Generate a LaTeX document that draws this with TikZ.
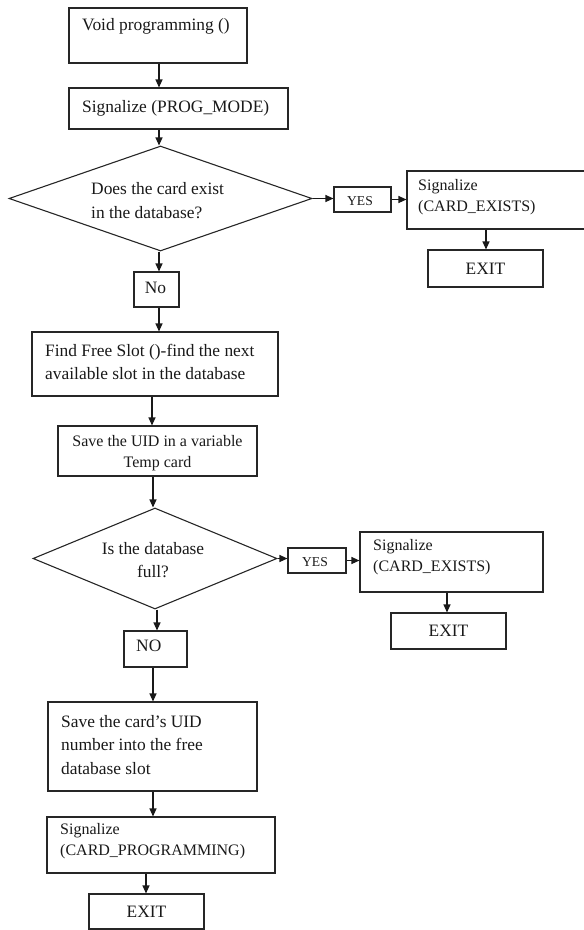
\documentclass[tikz,border=0pt]{standalone}
\usepackage{fontspec}
\setmainfont{Liberation Serif}
\usetikzlibrary{arrows.meta,shapes.geometric}

\begin{document}
\begin{tikzpicture}[x=1pt,y=-1pt]
\tikzset{
  flowbox/.style={draw=black!85, line width=1.1pt, rectangle, inner sep=0pt,
    font=\fontsize{17.4}{23.5}\selectfont, text=black!90},
  decision/.style={draw=black!85, line width=1.1pt, diamond, inner sep=0pt},
  bigtxt/.style={inner sep=0pt, font=\fontsize{17.4}{23.5}\selectfont, text=black!90, align=left},
  smalltxt/.style={inner sep=0pt, font=\fontsize{16}{21}\selectfont, text=black!90, align=left},
  yestxt/.style={inner sep=0pt, font=\fontsize{13.6}{16}\selectfont, text=black!90},
  flow/.style={draw=black!90, line width=1.1pt, -{Triangle[length=8pt,width=7pt]}},
}
\useasboundingbox (0,0) rectangle (584,930);

% column positions of the vertical connectors
\coordinate (c146) at (146,0);
\coordinate (c152) at (152,0);
\coordinate (c153) at (153,0);
\coordinate (c157) at (157,0);
\coordinate (c159) at (159,0);
\coordinate (c447) at (447,0);
\coordinate (c486) at (486,0);

% main column
\node[flowbox, minimum width=178pt, minimum height=55pt] (b1) at (158,35.5) {};
\node[bigtxt, anchor=west] (t1) at (82,26.5) {Void programming ()};

\node[flowbox, minimum width=219pt, minimum height=41pt] (b2) at (178.5,108.5) {};
\node[bigtxt, anchor=west] (t2) at (82,108.5) {Signalize (PROG\_MODE)};

\node[decision, minimum width=303pt, minimum height=105pt] (d1) at (160.5,198.5) {};
\node[bigtxt, anchor=west] (td1) at (91,200.5) {Does the card exist\\in the database?};

\node[flowbox, minimum width=45pt, minimum height=35pt] (n1) at (156.5,289.5) {};
\node[bigtxt] (tn1) at (155.5,288) {No};

\node[flowbox, minimum width=246pt, minimum height=64pt] (f) at (155,364) {};
\node[bigtxt, anchor=west] (tf) at (45,362) {Find Free Slot ()-find the next\\available slot in the database};

\node[flowbox, minimum width=199pt, minimum height=50pt] (u) at (157.5,451) {};
\node[smalltxt, align=center] (tu) at (157.5,453) {Save the UID in a variable\\Temp card};

\node[decision, minimum width=244pt, minimum height=101pt] (d2) at (155,558.5) {};
\node[bigtxt, align=center] (td2) at (153,560) {Is the database\\full?};

\node[flowbox, minimum width=63pt, minimum height=36pt] (n2) at (155.5,649) {};
\node[bigtxt, anchor=west] (tn2) at (136,646) {NO};

\node[flowbox, minimum width=209pt, minimum height=89pt] (c) at (152.5,746.5) {};
\node[bigtxt, anchor=west] (tc) at (61,745) {Save the card’s UID\\number into the free\\database slot};

\node[flowbox, minimum width=228pt, minimum height=56pt] (s3) at (161,845) {};
\node[smalltxt, anchor=west] (ts3) at (60,841) {Signalize\\(CARD\_PROGRAMMING)};

\node[flowbox, minimum width=115pt, minimum height=35pt] (e3) at (146.5,911.5) {EXIT};

% first branch
\node[flowbox, minimum width=57pt, minimum height=25pt] (y1) at (362.5,199.5) {};
\node[yestxt] (ty1) at (360,201.5) {YES};

\node[flowbox, minimum width=179pt, minimum height=58pt] (s1) at (496.5,200) {};
\node[smalltxt, anchor=west] (ts1) at (418,197.5) {Signalize\\(CARD\_EXISTS)};

\node[flowbox, minimum width=115pt, minimum height=37pt] (e1) at (485.5,268.5) {EXIT};

% second branch
\node[flowbox, minimum width=58pt, minimum height=25pt] (y2) at (317,560.5) {};
\node[yestxt] (ty2) at (315,562.5) {YES};

\node[flowbox, minimum width=183pt, minimum height=60pt] (s2) at (451.5,562) {};
\node[smalltxt, anchor=west] (ts2) at (373,557) {Signalize\\(CARD\_EXISTS)};

\node[flowbox, minimum width=115pt, minimum height=36pt] (e2) at (448.5,631) {EXIT};

% connectors
\draw[flow] (b1.south -| c159) -- (b2.north -| c159);
\draw[flow] (b2.south -| c159) -- (d1.north -| c159);
\draw[flow] (d1.south -| c159) -- (n1.north -| c159);
\draw[flow] (n1.south -| c159) -- (f.north -| c159);
\draw[flow] (f.south -| c152) -- (u.north -| c152);
\draw[flow] (u.south -| c153) -- (d2.north -| c153);
\draw[flow] (d2.south -| c157) -- (n2.north -| c157);
\draw[flow] (n2.south -| c153) -- (c.north -| c153);
\draw[flow] (c.south -| c153) -- (s3.north -| c153);
\draw[flow] (s3.south -| c146) -- (e3.north -| c146);

\draw[flow] (d1.east) -- (y1.west |- d1.east);
\draw[flow] (y1.east) -- (s1.west |- y1.east);
\draw[flow] (s1.south -| c486) -- (e1.north -| c486);

\draw[flow] (d2.east) -- (y2.west |- d2.east);
\draw[flow] (y2.east) -- (s2.west |- y2.east);
\draw[flow] (s2.south -| c447) -- (e2.north -| c447);
\end{tikzpicture}
\end{document}
